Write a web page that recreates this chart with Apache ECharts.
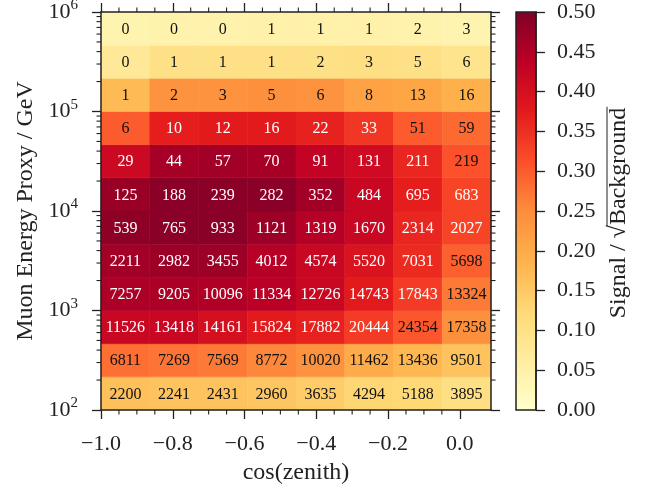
<!DOCTYPE html>
<html><head><meta charset="utf-8">
<script src="https://cdn.jsdelivr.net/npm/echarts@6/dist/echarts.min.js"></script>
<style>html,body{margin:0;padding:0;background:#fff}#c{width:652px;height:490px}</style>
</head><body><div id="c"></div>
<script>
// ---- data ----
const xEdges = [-1.0, -0.8641, -0.7283, -0.5924, -0.4565, -0.3206, -0.1848, -0.0489, 0.087];
const yEdges = [100, 215.44, 464.16, 1000, 2154.4, 4641.6, 10000, 21544, 46416, 100000, 215443, 464159, 1000000];
const xTicks = [-1.0, -0.8, -0.6, -0.4, -0.2, 0.0];
const xMinorTicks = [-0.95, -0.9, -0.85, -0.75, -0.7, -0.65, -0.55, -0.5, -0.45, -0.35, -0.3, -0.25, -0.15, -0.1, -0.05];
const yMinorTicks = [200, 300, 400, 500, 600, 700, 800, 900,
  2000, 3000, 4000, 5000, 6000, 7000, 8000, 9000,
  20000, 30000, 40000, 50000, 60000, 70000, 80000, 90000,
  200000, 300000, 400000, 500000, 600000, 700000, 800000, 900000];
// rows from lowest energy bin (bottom) to highest (top)
const counts = [
  [2200, 2241, 2431, 2960, 3635, 4294, 5188, 3895],
  [6811, 7269, 7569, 8772, 10020, 11462, 13436, 9501],
  [11526, 13418, 14161, 15824, 17882, 20444, 24354, 17358],
  [7257, 9205, 10096, 11334, 12726, 14743, 17843, 13324],
  [2211, 2982, 3455, 4012, 4574, 5520, 7031, 5698],
  [539, 765, 933, 1121, 1319, 1670, 2314, 2027],
  [125, 188, 239, 282, 352, 484, 695, 683],
  [29, 44, 57, 70, 91, 131, 211, 219],
  [6, 10, 12, 16, 22, 33, 51, 59],
  [1, 2, 3, 5, 6, 8, 13, 16],
  [0, 1, 1, 1, 2, 3, 5, 6],
  [0, 0, 0, 1, 1, 1, 2, 3]
];
const ratio = [
  [0.165, 0.16, 0.16, 0.155, 0.145, 0.13, 0.125, 0.105],
  [0.28, 0.275, 0.27, 0.255, 0.24, 0.20, 0.18, 0.16],
  [0.42, 0.42, 0.40, 0.375, 0.365, 0.335, 0.305, 0.245],
  [0.455, 0.455, 0.45, 0.44, 0.42, 0.375, 0.335, 0.27],
  [0.465, 0.47, 0.47, 0.445, 0.42, 0.39, 0.355, 0.295],
  [0.485, 0.49, 0.49, 0.47, 0.445, 0.42, 0.36, 0.325],
  [0.475, 0.49, 0.49, 0.49, 0.465, 0.42, 0.37, 0.325],
  [0.415, 0.46, 0.465, 0.46, 0.43, 0.41, 0.36, 0.31],
  [0.30, 0.37, 0.375, 0.375, 0.365, 0.34, 0.30, 0.285],
  [0.175, 0.24, 0.24, 0.245, 0.24, 0.215, 0.21, 0.19],
  [0.075, 0.10, 0.10, 0.10, 0.10, 0.105, 0.10, 0.09],
  [0.04, 0.045, 0.045, 0.05, 0.05, 0.05, 0.045, 0.04]
];
const cmap = ['#ffffcc', '#ffeda0', '#fed976', '#feb24c', '#fd8d3c', '#fc4e2a', '#e31a1c', '#bd0026', '#800026'];
const vMin = 0, vMax = 0.5;
const xLabel = 'cos(zenith)';
const yLabel = 'Muon Energy Proxy / GeV';
const cLabelA = 'Signal / √';
const cLabelB = 'Background';

// ---- chart ----
const FONT = '"Liberation Serif", "DejaVu Serif", serif';
const INK = '#222';
const NAME_SIZE = 24;
const cells = [];
for (let r = 0; r < counts.length; r++)
  for (let c = 0; c < counts[r].length; c++)
    cells.push([xEdges[c], xEdges[c + 1], yEdges[r], yEdges[r + 1], ratio[r][c], counts[r][c]]);

const fmtX = v => { if (Math.abs(v) < 1e-9) return '0.0'; return (v < 0 ? '\u2212' : '') + Math.abs(v).toFixed(1); };
const axisLine = { show: true, onZero: false, lineStyle: { color: INK, width: 1.5 } };
const tick = (vals) => ({ show: true, length: 9, customValues: vals, lineStyle: { color: INK, width: 1.3 } });

const chart = echarts.init(document.getElementById('c'), null, { renderer: 'canvas' });

const ctx = document.createElement('canvas').getContext('2d');
ctx.font = NAME_SIZE + 'px ' + FONT;
const wA = ctx.measureText(cLabelA).width, wB = ctx.measureText(cLabelB).width;
const W = wA + wB;

chart.setOption({
  animation: false,
  backgroundColor: '#fff',
  grid: [
    { left: 101, top: 12, width: 390, height: 398, outerBoundsMode: 'none', containLabel: false },
    { left: 516, top: 12, width: 20, height: 398, outerBoundsMode: 'none', containLabel: false }
  ],
  xAxis: [
    { gridIndex: 0, type: 'value', min: -1.0, max: 0.087, position: 'bottom', z: 5,
      axisLine, axisTick: tick(xTicks), splitLine: { show: false },
      axisLabel: { customValues: xTicks, formatter: fmtX, fontSize: 22, fontFamily: FONT, color: INK, margin: 23 },
      name: xLabel, nameLocation: 'middle', nameGap: 51,
      nameTextStyle: { fontSize: NAME_SIZE, fontFamily: FONT, color: INK } },
    { gridIndex: 0, type: 'value', min: -1.0, max: 0.087, position: 'top', z: 5,
      axisLine, axisTick: tick(xTicks), splitLine: { show: false }, axisLabel: { show: false } },
    { gridIndex: 1, type: 'value', min: 0, max: 1, show: false }
  ],
  yAxis: [
    { gridIndex: 0, type: 'log', logBase: 10, min: 100, max: 1000000, position: 'left', z: 5,
      axisLine, axisTick: { show: true, length: 9, lineStyle: { color: INK, width: 1.3 } }, splitLine: { show: false },
      axisLabel: { margin: 23, color: INK,
        formatter: v => '{b|10}{s|' + Math.round(Math.log10(v)) + '}',
        rich: { b: { fontSize: 22, fontFamily: FONT, color: INK, lineHeight: 28 },
                s: { fontSize: 15, fontFamily: FONT, color: INK, verticalAlign: 'top', lineHeight: 15 } } },
      name: yLabel, nameLocation: 'middle', nameGap: 62,
      nameTextStyle: { fontSize: NAME_SIZE, fontFamily: FONT, color: INK } },
    { gridIndex: 0, type: 'log', logBase: 10, min: 100, max: 1000000, position: 'right', z: 5,
      axisLine, axisTick: { show: true, length: 9, lineStyle: { color: INK, width: 1.3 } }, splitLine: { show: false },
      axisLabel: { show: false } },
    { gridIndex: 1, type: 'value', min: vMin, max: vMax, interval: 0.05, position: 'right', z: 5,
      axisLine, axisTick: { show: true, length: 9, lineStyle: { color: INK, width: 1.3 } }, splitLine: { show: false },
      axisLabel: { formatter: v => v.toFixed(2), fontSize: 22, fontFamily: FONT, color: INK, margin: 21 } }
  ],
  visualMap: { type: 'continuous', show: false, min: vMin, max: vMax, dimension: 4, seriesIndex: 0, inRange: { color: cmap } },
  series: [
    { type: 'custom', xAxisIndex: 0, yAxisIndex: 0, data: cells, encode: { x: [0, 1], y: [2, 3] }, z: 2,
      renderItem(params, api) {
        const p0 = api.coord([api.value(0), api.value(3)]);
        const p1 = api.coord([api.value(1), api.value(2)]);
        const v = api.value(4);
        const col = api.visual('color');
        return { type: 'group', children: [
          { type: 'rect', shape: { x: p0[0], y: p0[1], width: p1[0] - p0[0], height: p1[1] - p0[1] },
            style: { fill: col, stroke: col, lineWidth: 0.6 } },
          { type: 'text', z2: 10, style: { text: String(api.value(5)), x: (p0[0] + p1[0]) / 2, y: (p0[1] + p1[1]) / 2 + 1,
            align: 'center', verticalAlign: 'middle', font: '16px ' + FONT, fill: v > 0.32 ? '#ffffff' : '#111' } }
        ] };
      } },
    { type: 'custom', xAxisIndex: 0, yAxisIndex: 0, data: yMinorTicks.map(v => [-1.0, v]), encode: { x: 0, y: 1 }, z: 6,
      renderItem(params, api) {
        const p = api.coord([api.value(0), api.value(1)]);
        const cs = params.coordSys;
        const st = { stroke: INK, lineWidth: 1.1 };
        return { type: 'group', children: [
          { type: 'line', shape: { x1: cs.x - 4.5, y1: p[1], x2: cs.x, y2: p[1] }, style: st },
          { type: 'line', shape: { x1: cs.x + cs.width, y1: p[1], x2: cs.x + cs.width + 4.5, y2: p[1] }, style: st }
        ] };
      } },
    { type: 'custom', xAxisIndex: 0, yAxisIndex: 0, data: xMinorTicks.map(v => [v, 100]), encode: { x: 0, y: 1 }, z: 6,
      renderItem(params, api) {
        const p = api.coord([api.value(0), api.value(1)]);
        const cs = params.coordSys;
        const st = { stroke: INK, lineWidth: 1.1 };
        return { type: 'group', children: [
          { type: 'line', shape: { x1: p[0], y1: cs.y + cs.height, x2: p[0], y2: cs.y + cs.height + 4.5 }, style: st },
          { type: 'line', shape: { x1: p[0], y1: cs.y - 4.5, x2: p[0], y2: cs.y }, style: st }
        ] };
      } },
    { type: 'custom', xAxisIndex: 2, yAxisIndex: 2, data: [[0, vMin, 1, vMax]], encode: { x: [0, 2], y: [1, 3] }, z: 2,
      renderItem(params, api) {
        const p0 = api.coord([api.value(0), api.value(3)]);
        const p1 = api.coord([api.value(2), api.value(1)]);
        const stops = cmap.map((c, i) => ({ offset: i / (cmap.length - 1), color: c }));
        return { type: 'rect', shape: { x: p0[0], y: p0[1], width: p1[0] - p0[0], height: p1[1] - p0[1] },
          style: { fill: new echarts.graphic.LinearGradient(0, 1, 0, 0, stops), stroke: INK, lineWidth: 1.5 } };
      } }
  ],
  graphic: [
    { type: 'group', x: 619, y: 213, rotation: Math.PI / 2, children: [
      { type: 'text', style: { text: cLabelA + cLabelB, x: -W / 2, y: 0, verticalAlign: 'middle', font: NAME_SIZE + 'px ' + FONT, fill: INK } },
      { type: 'line', shape: { x1: -W / 2 + wA - 1, y1: -12, x2: W / 2 + 1, y2: -12 }, style: { stroke: INK, lineWidth: 1 } }
    ] }
  ]
});
</script></body></html>
